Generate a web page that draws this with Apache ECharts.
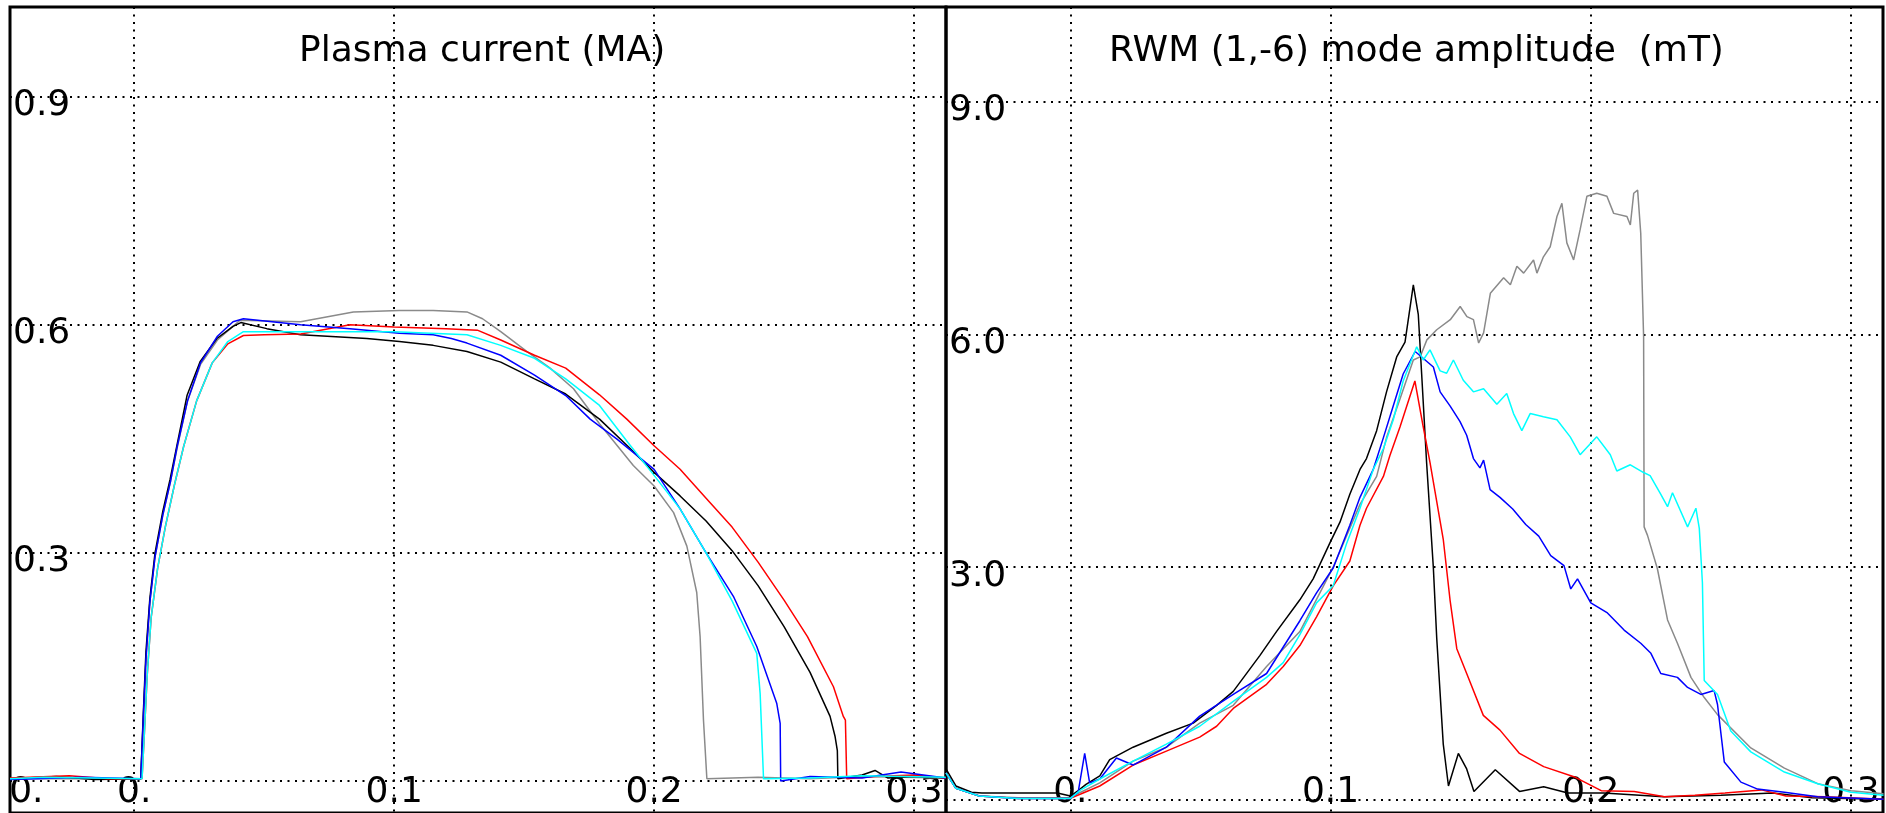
<!DOCTYPE html>
<html>
<head>
<meta charset="utf-8">
<script src="https://cdn.jsdelivr.net/npm/echarts@6/dist/echarts.min.js"></script>
<style>
html,body{margin:0;padding:0;background:#fff;}
#chart{width:1886px;height:813px;}
</style>
</head>
<body>
<div id="chart"></div>
<script>
// ---- titles ----
const leftTitle = 'Plasma current (MA)';
const rightTitle = 'RWM (1,-6) mode amplitude  (mT)';

// ---- tick values ----
const xGridTicks = [0, 0.1, 0.2, 0.3];
const leftXLabelTicks = [-0.0415, 0, 0.1, 0.2, 0.3];
const rightXLabelTicks = [0, 0.1, 0.2, 0.3];
const ipGridTicks = [0, 0.3, 0.6, 0.9];
const ipLabelTicks = [0.3, 0.6, 0.9];
const rwmGridTicks = [0, 3, 6, 9];
const rwmLabelTicks = [3, 6, 9];

// ---- Plasma current (MA) vs time (s) ----
const ipBlack = [[-0.0478,0.003],[-0.03,0.006],[-0.015,0.002],[0.0025,0.003],[0.0035,0.09],[0.0045,0.17],[0.006,0.24],[0.008,0.30],[0.011,0.355],[0.0138,0.397],[0.0164,0.441],[0.0203,0.507],[0.0254,0.552],[0.0318,0.582],[0.038,0.598],[0.041,0.603],[0.051,0.595],[0.064,0.587],[0.0895,0.582],[0.102,0.578],[0.115,0.573],[0.128,0.565],[0.141,0.551],[0.154,0.529],[0.166,0.509],[0.179,0.476],[0.19,0.44],[0.2,0.406],[0.21,0.375],[0.22,0.342],[0.23,0.303],[0.24,0.257],[0.25,0.203],[0.26,0.143],[0.2677,0.085],[0.2696,0.059],[0.2705,0.040],[0.2707,0.003],[0.28,0.008],[0.285,0.014],[0.29,0.004],[0.3,0.006],[0.3122,0.004]];
const ipRed = [[-0.0478,0.004],[-0.025,0.007],[-0.01,0.003],[0.003,0.003],[0.004,0.07],[0.005,0.14],[0.0065,0.215],[0.009,0.28],[0.012,0.335],[0.0155,0.39],[0.019,0.44],[0.024,0.50],[0.03,0.55],[0.036,0.575],[0.042,0.586],[0.05,0.587],[0.064,0.588],[0.083,0.600],[0.1,0.597],[0.12,0.595],[0.132,0.593],[0.141,0.580],[0.154,0.560],[0.166,0.543],[0.179,0.508],[0.1895,0.476],[0.2,0.441],[0.21,0.41],[0.22,0.372],[0.23,0.334],[0.24,0.288],[0.25,0.238],[0.259,0.19],[0.269,0.124],[0.2728,0.085],[0.2736,0.080],[0.2741,0.003],[0.285,0.006],[0.3,0.008],[0.3122,0.004]];
const ipBlue = [[-0.0478,0.002],[-0.02,0.005],[0.0025,0.003],[0.0035,0.085],[0.0045,0.16],[0.006,0.235],[0.008,0.295],[0.011,0.35],[0.014,0.395],[0.0165,0.44],[0.0205,0.50],[0.0255,0.55],[0.032,0.585],[0.038,0.604],[0.042,0.608],[0.064,0.600],[0.083,0.595],[0.102,0.589],[0.115,0.587],[0.122,0.582],[0.128,0.576],[0.141,0.560],[0.154,0.534],[0.166,0.507],[0.1754,0.476],[0.1856,0.450],[0.2,0.41],[0.21,0.358],[0.22,0.30],[0.2305,0.243],[0.2395,0.177],[0.2472,0.102],[0.2485,0.076],[0.2487,0.0],[0.26,0.006],[0.28,0.004],[0.295,0.012],[0.3122,0.004]];
const ipCyan = [[-0.0478,0.003],[-0.035,0.005],[0.003,0.003],[0.004,0.07],[0.005,0.14],[0.0065,0.215],[0.009,0.28],[0.012,0.335],[0.0155,0.39],[0.019,0.44],[0.024,0.50],[0.03,0.55],[0.036,0.578],[0.042,0.591],[0.064,0.591],[0.1,0.591],[0.128,0.587],[0.141,0.573],[0.154,0.556],[0.166,0.529],[0.179,0.494],[0.19,0.445],[0.2,0.402],[0.21,0.358],[0.22,0.30],[0.23,0.237],[0.2395,0.168],[0.2408,0.115],[0.2421,0.003],[0.26,0.004],[0.28,0.007],[0.3122,0.005]];
const ipGray = [[-0.0478,0.003],[0.0025,0.003],[0.0035,0.08],[0.0045,0.16],[0.006,0.235],[0.008,0.295],[0.011,0.35],[0.014,0.395],[0.0165,0.438],[0.0205,0.50],[0.0255,0.548],[0.032,0.58],[0.038,0.598],[0.0407,0.606],[0.064,0.604],[0.0843,0.617],[0.102,0.619],[0.115,0.619],[0.128,0.617],[0.134,0.608],[0.141,0.591],[0.151,0.565],[0.16,0.543],[0.169,0.516],[0.179,0.47],[0.192,0.415],[0.2,0.388],[0.2075,0.353],[0.2126,0.309],[0.2164,0.248],[0.2177,0.190],[0.219,0.080],[0.2203,0.003],[0.24,0.005],[0.26,0.003],[0.28,0.006],[0.3122,0.004]];

// ---- RWM (1,-6) mode amplitude (mT) vs time (s) ----
const rwmBlack = [[-0.0478,0.40],[-0.044,0.18],[-0.038,0.10],[-0.034,0.09],[-0.02,0.09],[-0.005,0.09],[0.0,0.05],[0.003,0.12],[0.006,0.20],[0.0113,0.31],[0.0151,0.52],[0.0241,0.68],[0.0369,0.86],[0.0472,0.99],[0.0562,1.22],[0.0626,1.40],[0.0728,1.86],[0.0792,2.17],[0.0882,2.58],[0.0933,2.85],[0.0997,3.31],[0.1036,3.58],[0.1074,3.94],[0.1113,4.26],[0.1138,4.40],[0.1177,4.76],[0.1215,5.26],[0.1254,5.71],[0.1286,5.90],[0.1318,6.64],[0.1337,6.26],[0.135,5.49],[0.1369,4.35],[0.1395,2.99],[0.1408,2.08],[0.1433,0.72],[0.1453,0.18],[0.1491,0.60],[0.1523,0.40],[0.1551,0.11],[0.1633,0.39],[0.1726,0.11],[0.1819,0.17],[0.1912,0.09],[0.205,0.09],[0.228,0.04],[0.25,0.06],[0.27,0.09],[0.285,0.03],[0.3125,0.01]];
const rwmRed = [[-0.0478,0.35],[-0.044,0.15],[-0.035,0.05],[-0.02,0.02],[0,0.02],[0.0049,0.09],[0.0113,0.18],[0.0241,0.45],[0.0369,0.63],[0.0497,0.81],[0.0562,0.95],[0.0626,1.18],[0.0754,1.49],[0.0818,1.72],[0.0882,1.99],[0.0946,2.36],[0.101,2.76],[0.1074,3.08],[0.1113,3.54],[0.1138,3.76],[0.1203,4.17],[0.1228,4.44],[0.1267,4.81],[0.1324,5.40],[0.1356,4.81],[0.1382,4.35],[0.1433,3.36],[0.1459,2.58],[0.1485,1.95],[0.1523,1.63],[0.1587,1.09],[0.1651,0.90],[0.1726,0.60],[0.1819,0.43],[0.1935,0.30],[0.204,0.12],[0.2167,0.11],[0.2284,0.04],[0.24,0.06],[0.2516,0.09],[0.2656,0.13],[0.275,0.05],[0.29,0.04],[0.3125,0.01]];
const rwmBlue = [[-0.0478,0.35],[-0.044,0.15],[-0.035,0.05],[-0.02,0.02],[0,0.02],[0.003,0.10],[0.0055,0.60],[0.0074,0.22],[0.0113,0.27],[0.0177,0.54],[0.0241,0.45],[0.0369,0.68],[0.0497,1.08],[0.0626,1.36],[0.0754,1.63],[0.0882,2.31],[0.0946,2.67],[0.101,2.99],[0.1074,3.54],[0.1113,3.90],[0.1164,4.26],[0.1203,4.67],[0.1241,5.08],[0.1279,5.49],[0.1325,5.78],[0.1395,5.58],[0.1421,5.26],[0.1459,5.08],[0.1497,4.88],[0.1523,4.70],[0.1549,4.40],[0.1574,4.28],[0.1588,4.38],[0.1613,4.00],[0.1651,3.90],[0.17,3.75],[0.175,3.55],[0.18,3.40],[0.1846,3.15],[0.1897,3.02],[0.1923,2.72],[0.1949,2.85],[0.2,2.54],[0.2064,2.41],[0.2128,2.19],[0.2192,2.02],[0.2231,1.89],[0.2269,1.63],[0.2333,1.58],[0.2372,1.45],[0.2423,1.36],[0.2474,1.41],[0.2487,1.23],[0.2513,0.49],[0.2577,0.23],[0.2641,0.14],[0.2744,0.10],[0.2872,0.04],[0.3125,0.01]];
const rwmCyan = [[-0.0478,0.35],[-0.044,0.15],[-0.035,0.05],[-0.02,0.02],[0,0.02],[0.004,0.13],[0.0113,0.27],[0.0241,0.50],[0.0369,0.72],[0.0497,0.95],[0.0626,1.27],[0.0754,1.58],[0.0818,1.77],[0.0882,2.13],[0.0946,2.54],[0.101,2.76],[0.1062,3.31],[0.1113,3.76],[0.1164,4.26],[0.1203,4.53],[0.1241,4.90],[0.1279,5.40],[0.1331,5.84],[0.1356,5.67],[0.1382,5.80],[0.1421,5.53],[0.1446,5.50],[0.1472,5.67],[0.151,5.41],[0.1549,5.26],[0.1588,5.30],[0.1639,5.10],[0.1677,5.24],[0.1703,4.98],[0.1735,4.76],[0.1767,4.98],[0.1818,4.94],[0.187,4.90],[0.1921,4.68],[0.1959,4.45],[0.2023,4.68],[0.2075,4.45],[0.21,4.24],[0.2152,4.32],[0.2203,4.22],[0.2228,4.18],[0.2267,3.95],[0.2295,3.78],[0.2314,3.96],[0.2372,3.52],[0.2404,3.76],[0.2417,3.50],[0.2429,2.80],[0.2436,1.54],[0.2487,1.36],[0.2538,0.89],[0.2615,0.62],[0.2744,0.36],[0.2872,0.21],[0.3,0.10],[0.3125,0.06]];
const rwmGray = [[-0.0478,0.35],[-0.044,0.15],[-0.035,0.05],[-0.02,0.03],[0,0.03],[0.004,0.10],[0.0113,0.22],[0.0241,0.50],[0.0369,0.68],[0.0497,0.99],[0.0626,1.22],[0.0754,1.72],[0.0882,2.17],[0.101,3.00],[0.1113,3.81],[0.1177,4.17],[0.1215,4.67],[0.1267,5.17],[0.1318,5.67],[0.1344,5.71],[0.137,5.93],[0.1408,6.06],[0.146,6.19],[0.1498,6.36],[0.1524,6.23],[0.1549,6.19],[0.1569,5.89],[0.1588,6.02],[0.1614,6.53],[0.1665,6.73],[0.1691,6.64],[0.1716,6.88],[0.1742,6.79],[0.178,6.96],[0.1793,6.79],[0.1818,7.00],[0.1844,7.13],[0.187,7.52],[0.1889,7.69],[0.1908,7.18],[0.1934,6.96],[0.1959,7.35],[0.1985,7.78],[0.2023,7.82],[0.2062,7.78],[0.2088,7.56],[0.2139,7.52],[0.2152,7.41],[0.2165,7.82],[0.218,7.86],[0.2192,7.30],[0.2203,5.97],[0.2205,3.52],[0.2218,3.41],[0.2256,2.98],[0.2295,2.32],[0.2333,2.02],[0.2385,1.58],[0.2436,1.32],[0.2487,1.10],[0.2615,0.67],[0.2744,0.41],[0.2872,0.21],[0.3,0.12],[0.3125,0.08]];

const FONT = 'DejaVu Sans, Liberation Sans, sans-serif';
const dotted = {color: '#000', width: 2, type: [2, 5.5]};

function xAxisCfg(gridIndex, labelTicks) {
  return {
    type: 'value', gridIndex: gridIndex, min: -0.0478, max: 0.3123,
    axisLine: {show: false, onZero: false},
    axisTick: {show: false, customValues: xGridTicks},
    splitLine: {show: true, lineStyle: dotted},
    axisLabel: {
      show: true, inside: true, customValues: labelTicks,
      margin: 10, verticalAlign: 'bottom', lineHeight: 20,
      fontSize: 36, fontFamily: FONT, color: '#000',
      formatter: function (v) { return v <= 0.0001 ? '0.' : v.toFixed(1); }
    }
  };
}
function yAxisCfg(gridIndex, min, max, gridTicks, labelTicks) {
  return {
    type: 'value', gridIndex: gridIndex, min: min, max: max,
    axisLine: {show: false, onZero: false},
    axisTick: {show: false, customValues: gridTicks},
    splitLine: {show: true, lineStyle: dotted},
    axisLabel: {
      show: true, inside: true, customValues: labelTicks,
      margin: 3, verticalAlign: 'top', lineHeight: 18, align: 'left',
      fontSize: 36, fontFamily: FONT, color: '#000',
      formatter: function (v) { return v.toFixed(1); }
    }
  };
}
function line(name, data, color, xi, yi) {
  return {
    name: name, type: 'line', xAxisIndex: xi, yAxisIndex: yi, data: data,
    showSymbol: false, symbol: 'none', animation: false, silent: true,
    lineStyle: {color: color, width: 1.5}, z: 3
  };
}

const titleStyle = {fontSize: 36, fontWeight: 'normal', fontFamily: FONT, color: '#000', lineHeight: 36};

const chart = echarts.init(document.getElementById('chart'), null, {renderer: 'canvas'});
chart.setOption({
  backgroundColor: '#fff',
  animation: false,
  title: [
    {text: leftTitle, left: 294, top: 29, textStyle: titleStyle},
    {text: rightTitle, left: 1104, top: 29, textStyle: titleStyle}
  ],
  grid: [
    {left: 10, top: 7, width: 936, height: 806, show: true, borderColor: '#000', borderWidth: 3, containLabel: false},
    {left: 946, top: 7, width: 937, height: 806, show: true, borderColor: '#000', borderWidth: 3, containLabel: false}
  ],
  xAxis: [xAxisCfg(0, leftXLabelTicks), xAxisCfg(1, rightXLabelTicks)],
  yAxis: [
    yAxisCfg(0, -0.042, 1.018, ipGridTicks, ipLabelTicks),
    yAxisCfg(1, -0.168, 10.22, rwmGridTicks, rwmLabelTicks)
  ],
  series: [
    line('Gray', ipGray, '#8a8a8a', 0, 0),
    line('Black', ipBlack, '#000000', 0, 0),
    line('Red', ipRed, '#ff0000', 0, 0),
    line('Blue', ipBlue, '#0000ff', 0, 0),
    line('Cyan', ipCyan, '#00ffff', 0, 0),
    line('Gray', rwmGray, '#8a8a8a', 1, 1),
    line('Black', rwmBlack, '#000000', 1, 1),
    line('Red', rwmRed, '#ff0000', 1, 1),
    line('Blue', rwmBlue, '#0000ff', 1, 1),
    line('Cyan', rwmCyan, '#00ffff', 1, 1)
  ]
});
</script>
</body>
</html>
